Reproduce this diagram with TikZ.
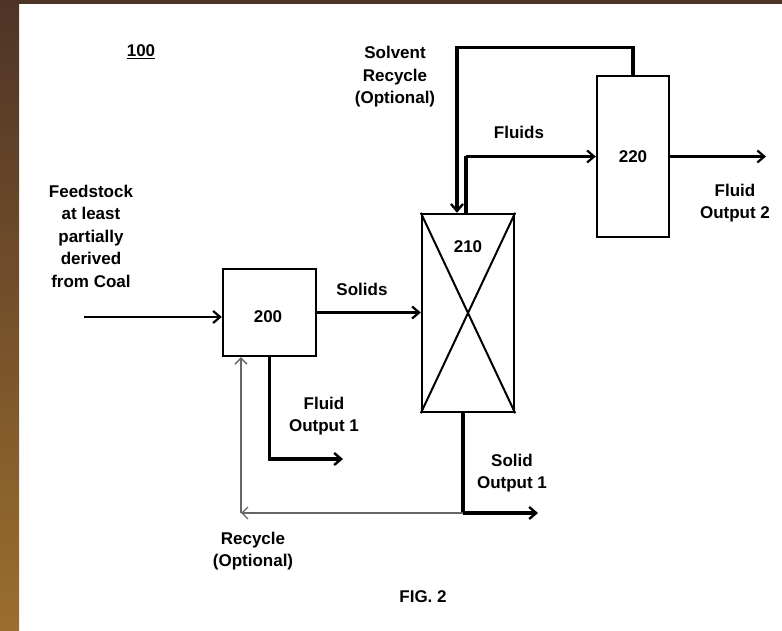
\documentclass[tikz,border=0pt]{standalone}
\usepackage{fontspec}
\setmainfont{Liberation Sans}
\usetikzlibrary{arrows.meta,positioning,calc}
\definecolor{bordertop}{HTML}{4E3427}
\definecolor{borderbot}{HTML}{9C6E2E}

\begin{document}
\begin{tikzpicture}[x=1pt, y=-1pt,
    unit/.style={draw, line width=2.4pt, inner sep=0pt, font=\bfseries\fontsize{17}{22.5}\selectfont},
    txt/.style={font=\bfseries\fontsize{17}{22.5}\selectfont, align=center, inner sep=0pt},
    pipe/.style={line width=3.6pt},
    flow/.style={line width=2.2pt, -{Straight Barb[length=7pt,width=12pt]}},
    pipeflow/.style={line width=3.4pt, -{Straight Barb[length=7pt,width=12pt,line width=2.4pt]}},
    recycle/.style={line width=1.3pt, draw=black!60, -{Straight Barb[length=6pt,width=12pt]}},
]
\useasboundingbox (0,0) rectangle (782,631);

% page border
\fill[white] (0,0) rectangle (782,631);
\shade[top color=bordertop, bottom color=borderbot] (0,0) rectangle (19,631);
\fill[bordertop] (0,0) rectangle (782,4);

\node[txt] (ref) at (141,52) {\underline{100}};

% Units
\node[unit, minimum width=93pt, minimum height=87pt] (b200) at (269.5,312.5) {};
\node[txt] (l200) at (268,317) {200};
\node[unit, minimum width=92pt, minimum height=198pt] (b210) at (468,313) {};
\node[txt] (l210) at (468,247) {210};
\node[unit, minimum width=72pt, minimum height=161pt] (b220) at (633,156.5) {220};

% reactor packing
\draw[line width=2pt] (b210.north west) -- (b210.south east)
                      (b210.north east) -- (b210.south west);

% end points
\coordinate (feed) at (84,317);
\coordinate (fo1) at (343,459);
\coordinate (split) at (463,513);
\coordinate (so1) at (538,513);
\coordinate (rc) at (241,513);
\coordinate (fl) at (466,156.5);
\coordinate (fo2) at (766,156.5);

% Streams
\draw[flow] (feed) -- (feed -| b200.west);
\draw[flow] (b200.east) -- (b200.east -| b210.west);
\draw[pipeflow] (b200.south) |- (fo1);
\draw[pipe] (split |- b210.south) -- (split);
\draw[pipeflow] (split) -- (so1);
\draw[recycle] (split) -- (rc);
\draw[recycle] (rc) -- (rc |- b200.south);
\draw[pipe] (fl |- b210.north) -- (fl);
\draw[flow] (fl) -- (b220.west);
\draw[pipeflow] (b220.north) -- ++(0,-27) -| ([xshift=-11pt]b210.north);
\draw[flow] (b220.east) -- (fo2);

% Labels
\node[txt] (tfeed) at (91,236) {Feedstock\\at least\\partially\\derived\\from Coal};
\node[txt] (tsol) at (362,289) {Solids};
\node[txt] (tfo1) at (324,416) {Fluid\\Output 1};
\node[txt] (tso1) at (512,473) {Solid\\Output 1};
\node[txt] (trc) at (253,551) {Recycle\\(Optional)};
\node[txt] (tsr) at (395,77) {Solvent\\Recycle\\(Optional)};
\node[txt] (tfl) at (519,132) {Fluids};
\node[txt] (tfo2) at (735,203) {Fluid\\Output 2};
\node[txt] (fig) at (423,597) {FIG. 2};

\end{tikzpicture}
\end{document}
